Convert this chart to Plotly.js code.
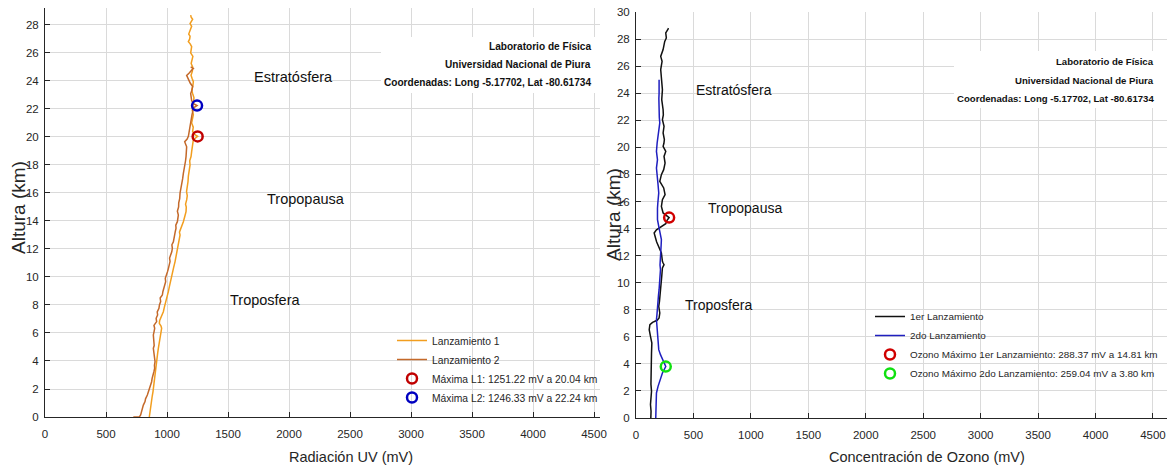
<!DOCTYPE html>
<html>
<head>
<meta charset="utf-8">
<script src="https://cdn.plot.ly/plotly-3.0.1.min.js"></script>
<style>html,body{margin:0;padding:0;background:#fff;overflow:hidden;}#chart{width:1167px;height:468px;}</style>
</head>
<body>
<div id="chart"></div>
<script>
// ---------- Left panel: UV radiation (mV) vs altitude (km) ----------
const l1Alt = [0,0.4,0.8,1.1,1.5,1.8,2.05,2.4,2.7,3.0,3.3,3.6,3.95,4.3,4.6,4.9,5.3,5.7,6.0,6.33,6.5,6.69,6.9,7.05,7.3,7.52,7.9,8.24,8.6,8.95,9.3,9.67,10.0,10.4,10.7,11.1,11.4,11.8,12.1,12.5,12.8,13.0,13.2,13.48,13.7,13.95,14.3,14.67,15.0,15.2,15.5,15.8,16.1,16.45,16.8,17.2,17.6,18.0,18.3,18.6,18.95,19.3,19.6,19.8,20.04,20.2,20.4,20.7,21.0,21.3,21.6,21.9,22.2,22.5,22.8,23.1,23.35,23.65,23.95,24.2,24.4,24.7,25.0,25.25,25.5,25.75,26.0,26.2,26.45,26.65,26.8,27.0,27.2,27.35,27.5,27.7,27.9,28.1,28.25,28.4,28.55,28.7];
const l1Val = [855,860,868,874,879,885,888,893,899,902,908,911,915,921,924,929,936,943,950,956,951,937,940,948,958,970,980,992,1000,1011,1019,1030,1037,1047,1055,1066,1072,1085,1090,1096,1100,1107,1102,1115,1122,1134,1145,1156,1158,1152,1161,1166,1160,1167,1172,1175,1183,1189,1186,1197,1202,1208,1212,1216,1251.22,1222,1210,1215,1202,1210,1216,1207,1210,1218,1221,1210,1202,1212,1216,1205,1197,1208,1210,1198,1202,1212,1194,1200,1202,1190,1175,1186,1189,1178,1183,1196,1202,1189,1200,1210,1198,1194];
const l2Alt = [0,0,0.14,0.4,0.62,0.85,1.1,1.3,1.57,1.8,2.05,2.3,2.52,2.75,3.0,3.25,3.48,3.7,3.95,4.2,4.43,4.65,4.9,5.1,5.38,5.6,5.86,6.1,6.33,6.55,6.81,7.05,7.29,7.5,7.76,8.0,8.24,8.5,8.71,8.95,9.19,9.4,9.67,9.9,10.14,10.4,10.6,10.85,11.1,11.35,11.6,11.8,12.05,12.3,12.5,12.75,13.0,13.25,13.48,13.7,13.95,14.2,14.43,14.7,15.0,15.3,15.6,16.0,16.3,16.7,17.0,17.4,17.7,18.0,18.3,18.6,18.95,19.3,19.5,19.66,19.85,20.04,20.3,20.5,20.75,21.0,21.3,21.6,21.85,22.05,22.24,22.4,22.6,22.85,23.1,23.35,23.6,23.85,24.1,24.25,24.4,24.55,24.7,24.8,24.9,25.0];
const l2Val = [724,773,784,790,801,806,820,824,839,848,861,866,874,878,888,893,899,897,902,898,896,891,888,895,893,886,888,894,899,893,915,911,923,920,934,938,948,944,962,966,975,980,989,986,997,1005,1011,1016,1025,1021,1033,1039,1044,1040,1052,1056,1060,1068,1074,1072,1085,1090,1093,1085,1095,1096,1104,1107,1115,1120,1128,1134,1142,1148,1152,1156,1158,1161,1152,1145,1165,1175,1180,1183,1190,1194,1200,1205,1212,1210,1246.33,1214,1202,1199,1194,1205,1210,1190,1175,1166,1161,1180,1194,1208,1216,1194];
const maxUVx = [1251.22, 1246.33];
const maxUVy = [20.04, 22.24];

// ---------- Right panel: ozone (mV) vs altitude (km) ----------
const o1Alt = [0,0.5,0.99,1.5,1.97,2.5,2.96,3.4,3.82,4.3,4.8,5.2,5.54,6.03,6.3,6.53,6.9,7.07,7.22,7.39,7.76,8.25,8.6,9.0,9.4,9.73,10.1,10.47,11.08,11.2,11.33,11.45,11.58,12.19,12.68,13.0,13.3,13.67,13.9,14.16,14.36,14.6,14.81,15.15,15.64,16.13,16.5,17.0,17.49,17.98,18.35,18.84,19.33,19.7,20.07,20.3,20.57,21.06,21.55,22.04,22.4,22.78,23.15,23.52,24.26,25.0,25.74,26.35,26.72,27.22,27.83,28.08,28.45,28.74,28.8];
const o1Val = [129,131,126,133,135,130,132,136,138,134,135,140,138,126,119,115,121,144,184,201,207,198,204,207,212,215,219,224,230,238,244,236,230,221,192,180,170,158,178,221,259,270,288.37,236,221,230,253,241,207,221,241,253,244,259,236,243,247,236,244,230,238,236,228,224,230,221,215,227,215,236,250,264,259,279,283];
const o2Alt = [0,0.5,0.99,1.4,1.85,2.34,2.83,3.33,3.80,4.31,4.68,5.05,5.4,5.79,6.15,6.53,6.9,7.27,7.6,8.0,8.4,8.74,9.1,9.48,9.85,10.22,10.6,10.96,11.3,11.7,12.1,12.44,12.8,13.18,13.67,14.16,14.66,15.15,15.5,15.89,16.25,16.63,17.24,17.86,18.47,19.09,19.4,19.7,20.32,20.7,21.06,21.4,21.8,22.2,22.54,23.28,23.6,24.0,24.63,25.0];
const o2Val = [172,174,175,177,178,192,213,230,259.04,230,213,198,194,190,186,184,181,178,182,184,188,192,196,201,204,207,211,213,209,210,213,215,219,221,207,198,187,184,187,190,195,198,192,184,178,187,182,178,184,191,198,203,207,203,201,195,199,201,198,201];
const maxO3x = [288.37, 259.04];
const maxO3y = [14.81, 3.80];

const uvNames = ['Lanzamiento 1','Lanzamiento 2','Máxima L1: 1251.22 mV a 20.04 km','Máxima L2: 1246.33 mV a 22.24 km'];
const o3Names = ['1er Lanzamiento','2do Lanzamiento','Ozono Máximo 1er Lanzamiento: 288.37 mV a 14.81 km','Ozono Máximo 2do Lanzamiento: 259.04 mV a 3.80 km'];
const xTicks = [0,500,1000,1500,2000,2500,3000,3500,4000,4500];
const headerLines = ['Laboratorio de Física','Universidad Nacional de Piura','Coordenadas: Long -5.17702, Lat -80.61734'];
const layerNames = ['Estratósfera','Tropopausa','Troposfera'];
const uvLayerX = [1697,1803,1500], uvLayerY = [24.3,15.57,8.36];
const o3LayerX = [509,612,405], o3LayerY = [24.24,15.52,8.35];

// ---------- geometry helpers ----------
const W = 1167, H = 468;
const px = v => v / W;
const py = v => 1 - v / H;
const FONT = 'Liberation Sans, Arial, sans-serif';
const INK = '#262626';

const traces = [
  {x:l1Val, y:l1Alt, mode:'lines', name:uvNames[0], line:{color:'#F29E1F', width:1.5}, xaxis:'x', yaxis:'y', legend:'legend'},
  {x:l2Val, y:l2Alt, mode:'lines', name:uvNames[1], line:{color:'#C4692A', width:1.5}, xaxis:'x', yaxis:'y', legend:'legend'},
  {x:[maxUVx[0]], y:[maxUVy[0]], mode:'markers', name:uvNames[2], marker:{symbol:'circle-open', size:10, color:'#C00000', line:{width:2.5, color:'#C00000'}}, xaxis:'x', yaxis:'y', legend:'legend'},
  {x:[maxUVx[1]], y:[maxUVy[1]], mode:'markers', name:uvNames[3], marker:{symbol:'circle-open', size:10, color:'#0000C0', line:{width:2.5, color:'#0000C0'}}, xaxis:'x', yaxis:'y', legend:'legend'},
  {x:o1Val, y:o1Alt, mode:'lines', name:o3Names[0], line:{color:'#111111', width:1.5}, xaxis:'x2', yaxis:'y2', legend:'legend2'},
  {x:o2Val, y:o2Alt, mode:'lines', name:o3Names[1], line:{color:'#1F1FBF', width:1.5}, xaxis:'x2', yaxis:'y2', legend:'legend2'},
  {x:[maxO3x[0]], y:[maxO3y[0]], mode:'markers', name:o3Names[2], marker:{symbol:'circle-open', size:10, color:'#D00000', line:{width:2.5, color:'#D00000'}}, xaxis:'x2', yaxis:'y2', legend:'legend2'},
  {x:[maxO3x[1]], y:[maxO3y[1]], mode:'markers', name:o3Names[3], marker:{symbol:'circle-open', size:10, color:'#10E010', line:{width:2.5, color:'#10E010'}}, xaxis:'x2', yaxis:'y2', legend:'legend2'}
];

const axisCommon = {
  showline:true, linecolor:INK, linewidth:1, mirror:false,
  showgrid:true, gridcolor:'#DADADA', gridwidth:1, zeroline:false,
  ticks:'inside', ticklen:5, tickcolor:INK, tickwidth:1,
  tickfont:{family:FONT, size:11.5, color:INK}, ticklabeloverflow:'allow', fixedrange:true
};

const annotations = [];
layerNames.forEach((t,i)=>annotations.push({xref:'x', yref:'y', x:uvLayerX[i], y:uvLayerY[i], text:t, showarrow:false, xanchor:'left', yanchor:'middle', font:{family:FONT, size:14.5, color:'#111'}}));
layerNames.forEach((t,i)=>annotations.push({xref:'x2', yref:'y2', x:o3LayerX[i], y:o3LayerY[i], text:t, showarrow:false, xanchor:'left', yanchor:'middle', font:{family:FONT, size:14, color:'#111'}}));
// header blocks (three right-aligned bold lines each)
const leftHeaderY = [47, 64.5, 82], rightHeaderY = [62, 80, 98];
headerLines.forEach((t,i)=>annotations.push({xref:'paper', yref:'paper', x:px(593), y:py(leftHeaderY[i]), xanchor:'right', yanchor:'middle', text:'<b>'+t+'</b>', showarrow:false, font:{family:FONT, size:10.1, color:'#111'}}));
headerLines.forEach((t,i)=>annotations.push({xref:'paper', yref:'paper', x:px(1156), y:py(rightHeaderY[i]), xanchor:'right', yanchor:'middle', text:'<b>'+t+'</b>', showarrow:false, font:{family:FONT, size:9.6, color:'#111'}}));
// axis titles
annotations.push({xref:'paper', yref:'paper', x:px(351), y:py(457), xanchor:'center', yanchor:'middle', text:'Radiación UV (mV)', showarrow:false, font:{family:FONT, size:14.5, color:INK}});
annotations.push({xref:'paper', yref:'paper', x:px(927), y:py(457), xanchor:'center', yanchor:'middle', text:'Concentración de Ozono (mV)', showarrow:false, font:{family:FONT, size:14.5, color:INK}});
annotations.push({xref:'paper', yref:'paper', x:px(18), y:py(208), xanchor:'center', yanchor:'middle', textangle:-90, text:'Altura (km)', showarrow:false, font:{family:FONT, size:19, color:INK}});
annotations.push({xref:'paper', yref:'paper', x:px(614), y:py(215), xanchor:'center', yanchor:'middle', textangle:-90, text:'Altura (km)', showarrow:false, font:{family:FONT, size:19, color:INK}});

// white backing boxes behind the header blocks (they hide the grid as in the source)
const shapes = [
  {type:'rect', xref:'paper', yref:'paper', x0:px(381), x1:px(600), y0:py(93), y1:py(37), fillcolor:'#ffffff', line:{width:0}, layer:'above'},
  {type:'rect', xref:'paper', yref:'paper', x0:px(954), x1:1, y0:py(108), y1:py(51), fillcolor:'#ffffff', line:{width:0}, layer:'above'}
];

const layout = {
  width:W, height:H, margin:{l:0, r:0, t:0, b:0, autoexpand:false},
  paper_bgcolor:'#ffffff', plot_bgcolor:'#ffffff',
  showlegend:true,
  xaxis:Object.assign({}, axisCommon, {domain:[px(45), px(600)], range:[0, 4549], tickvals:xTicks, ticklabelstandoff:6, anchor:'y'}),
  yaxis:Object.assign({}, axisCommon, {domain:[py(417), py(8)], range:[0, 29.21], dtick:2, tick0:0, ticklabelstandoff:3, anchor:'x'}),
  xaxis2:Object.assign({}, axisCommon, {domain:[px(636), 1], range:[0, 4622], tickvals:xTicks, ticklabelstandoff:6, anchor:'y2'}),
  yaxis2:Object.assign({}, axisCommon, {domain:[py(418), py(12)], range:[0, 30], dtick:2, tick0:0, ticklabelstandoff:3, anchor:'x2'}),
  legend:{x:px(392), y:py(326), xanchor:'left', yanchor:'top', bgcolor:'rgba(0,0,0,0)', borderwidth:0, tracegroupgap:0, itemwidth:30, font:{family:FONT, size:10.3, color:INK}},
  legend2:{x:px(870), y:py(302), xanchor:'left', yanchor:'top', bgcolor:'rgba(0,0,0,0)', borderwidth:0, tracegroupgap:0, itemwidth:30, font:{family:FONT, size:9.9, color:INK}},
  shapes:shapes,
  annotations:annotations
};

Plotly.newPlot('chart', traces, layout, {staticPlot:true, displayModeBar:false});
</script>
</body>
</html>
